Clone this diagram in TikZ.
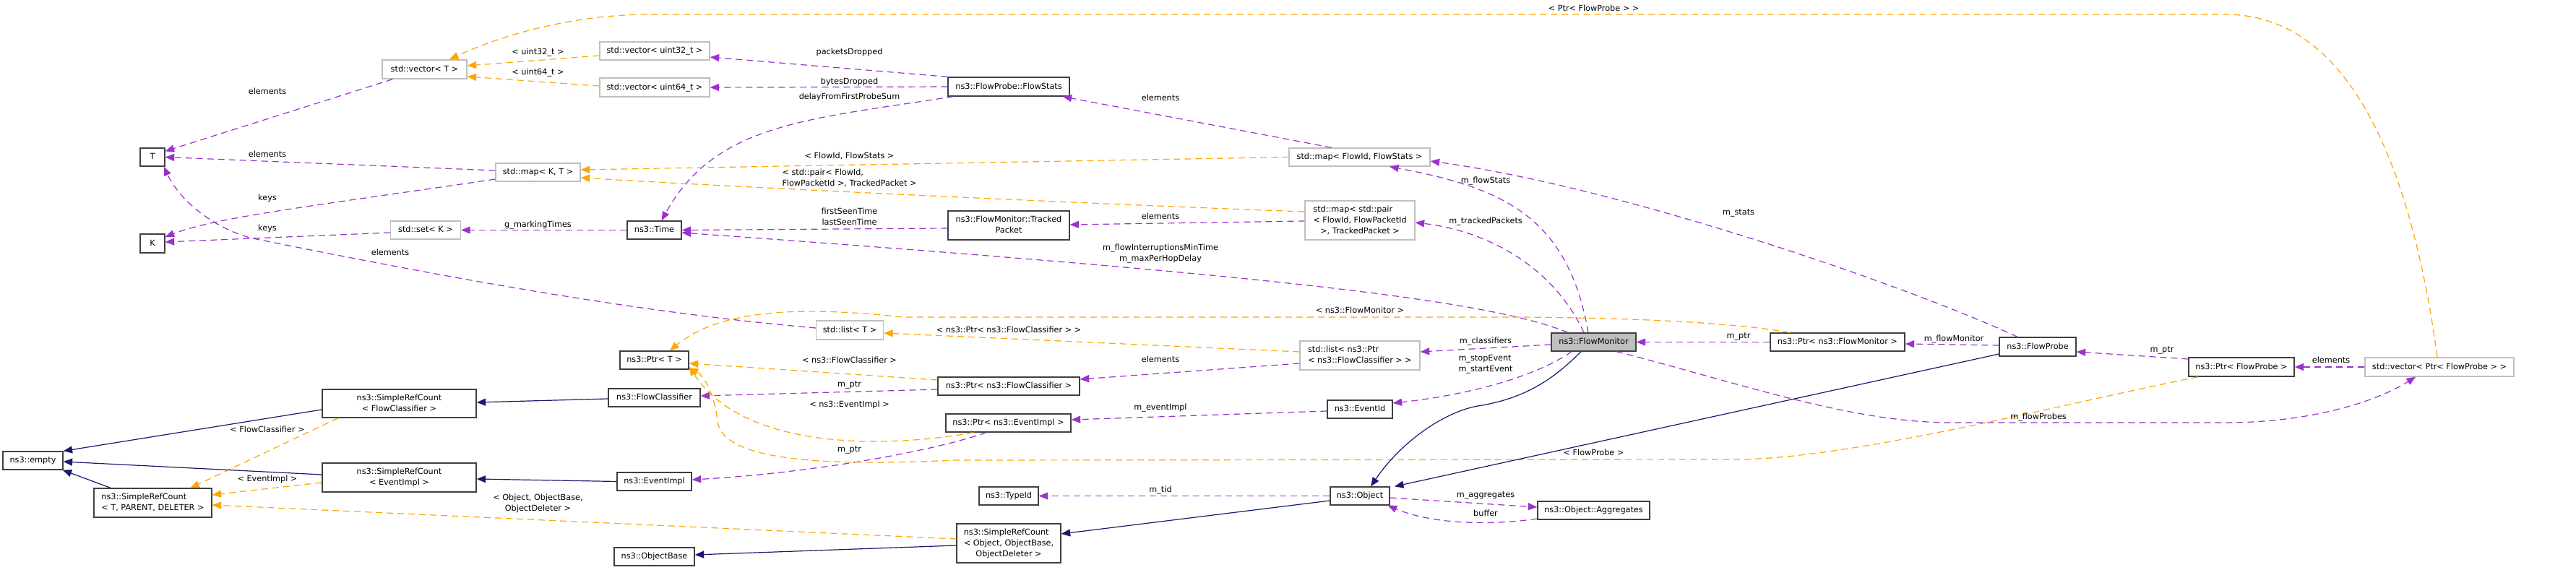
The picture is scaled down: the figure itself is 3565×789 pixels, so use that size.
\documentclass[tikz,border=0pt]{standalone}
\usepackage{fontspec}
\setmainfont{DejaVu Sans}
\usetikzlibrary{arrows.meta}
\definecolor{purp}{HTML}{9A32CD}
\definecolor{orng}{HTML}{FFA500}
\definecolor{navy}{HTML}{191970}
\definecolor{gryb}{HTML}{BFBFBF}
\definecolor{dkb}{HTML}{404040}
\newcommand{\mlb}[2]{\begin{tabular}{@{}l@{}}#1\\\multicolumn{1}{@{}c@{}}{#2}\end{tabular}}
\newcommand{\mlc}[3]{\begin{tabular}{@{}l@{}}#1\\#2\\\multicolumn{1}{@{}c@{}}{#3}\end{tabular}}
\begin{document}
\begin{tikzpicture}[x=1pt,y=-1pt,
  font=\fontsize{11.25}{15}\selectfont,
  box/.style={rectangle, draw=dkb, line width=1.3pt, inner sep=0pt, fill=white, align=center},
  gbox/.style={box, draw=gryb},
  one/.style={text height=9pt, text depth=2.2pt},
  lbl/.style={inner sep=0pt, one},
  mlbl/.style={inner sep=0pt},
  tipp/.style={-{Triangle[length=12.5pt,width=10pt]}},
  use/.style={tipp, draw=purp, line width=1.2pt, dash pattern=on 9pt off 6pt},
  tmpl/.style={tipp, draw=orng, line width=1.2pt, dash pattern=on 9pt off 6pt},
  inh/.style={tipp, draw=navy, line width=1.2pt}
]
\fill[white] (0,0) rectangle (3565,789);
\useasboundingbox (0,0) rectangle (3565,789);

% nodes
\node[box,one,minimum width=34,minimum height=25] (T) at (211,217.5) {T};
\node[box,one,minimum width=34,minimum height=26] (K) at (211,337) {K};
\node[gbox,one,minimum width=117,minimum height=26] (vecT) at (587.5,96) {std::vector< T >};
\node[gbox,one,minimum width=152,minimum height=25] (vec32) at (906,70.5) {std::vector< uint32\_t >};
\node[gbox,one,minimum width=152,minimum height=26] (vec64) at (906,121) {std::vector< uint64\_t >};
\node[gbox,one,minimum width=117,minimum height=25] (mapKT) at (744.5,238.5) {std::map< K, T >};
\node[gbox,one,minimum width=97,minimum height=25] (setK) at (589,318.5) {std::set< K >};
\node[box,one,minimum width=75,minimum height=25] (Time) at (905.5,318.5) {ns3::Time};
\node[box,one,minimum width=168,minimum height=26] (FlowStats) at (1396,120) {ns3::FlowProbe::FlowStats};
\node[box,minimum width=168,minimum height=40] (TP) at (1396,312) {\mlb{ns3::FlowMonitor::Tracked}{Packet}};
\node[gbox,one,minimum width=195,minimum height=25] (mapFS) at (1881.5,217.5) {std::map< FlowId, FlowStats >};
\node[gbox,minimum width=152,minimum height=54] (mapPair) at (1882,305) {\mlc{std::map< std::pair}{< FlowId, FlowPacketId}{>, TrackedPacket >}};
\node[gbox,one,minimum width=93,minimum height=26] (listT) at (1176,457) {std::list< T >};
\node[box,one,minimum width=95,minimum height=25] (PtrT) at (905.5,498.5) {ns3::Ptr< T >};
\node[box,one,minimum width=127,minimum height=25] (FC) at (905.5,550.5) {ns3::FlowClassifier};
\node[box,one,minimum width=103,minimum height=25] (EventImpl) at (905.5,666.5) {ns3::EventImpl};
\node[box,one,minimum width=111,minimum height=25] (ObjectBase) at (905.5,770.5) {ns3::ObjectBase};
\node[box,one,minimum width=83,minimum height=25] (empty) at (45.5,637.5) {ns3::empty};
\node[box,minimum width=163,minimum height=40] (SRC) at (211.5,696) {\mlb{ns3::SimpleRefCount}{< T, PARENT, DELETER >}};
\node[box,minimum width=213,minimum height=39] (SRCFC) at (552.5,558.5) {\mlb{ns3::SimpleRefCount}{< FlowClassifier >}};
\node[box,minimum width=213,minimum height=40] (SRCEI) at (552.5,661) {\mlb{ns3::SimpleRefCount}{< EventImpl >}};
\node[box,one,minimum width=196,minimum height=25] (PtrFC) at (1396,534.5) {ns3::Ptr< ns3::FlowClassifier >};
\node[box,one,minimum width=173,minimum height=25] (PtrEI) at (1395.5,585.5) {ns3::Ptr< ns3::EventImpl >};
\node[box,one,minimum width=82,minimum height=25] (TypeId) at (1396,686.5) {ns3::TypeId};
\node[box,minimum width=144,minimum height=54] (SRCObj) at (1396,752) {\mlc{ns3::SimpleRefCount}{< Object, ObjectBase,}{ObjectDeleter >}};
\node[gbox,minimum width=166,minimum height=40] (listPFC) at (1882,492) {\mlb{std::list< ns3::Ptr}{< ns3::FlowClassifier > >}};
\node[box,one,fill=gryb,minimum width=117,minimum height=25] (FM) at (2205.5,473.5) {ns3::FlowMonitor};
\node[box,one,minimum width=90,minimum height=25] (EventId) at (1882,566.5) {ns3::EventId};
\node[box,one,minimum width=82,minimum height=25] (Object) at (1882,686.5) {ns3::Object};
\node[box,one,minimum width=155,minimum height=25] (Agg) at (2205.5,706.5) {ns3::Object::Aggregates};
\node[box,one,minimum width=186,minimum height=25] (PtrFM) at (2543,473.5) {ns3::Ptr< ns3::FlowMonitor >};
\node[box,one,minimum width=106,minimum height=26] (FP) at (2820,480) {ns3::FlowProbe};
\node[box,one,minimum width=146,minimum height=26] (PtrFP) at (3102,508) {ns3::Ptr< FlowProbe >};
\node[gbox,one,minimum width=206,minimum height=26] (vecPFP) at (3376,508) {std::vector< Ptr< FlowProbe > >};

% purple usage edges
\draw[use] ([xshift=15]vecT.south west) -- ([yshift=-5]T.north east);
\draw[use] ([yshift=2.5]mapKT.west) -- (T.east);
\draw[use] ([yshift=3]listT.west) .. controls (850,430) and (550,370) .. (350,330) .. controls (300,318) and (250,280) .. ([xshift=-2]T.south east);
\draw[use] ([yshift=-9.5]mapKT.west) .. controls (450,283) and (300,300) .. ([yshift=9]K.east);
\draw[use] ([yshift=-3.5]setK.west) -- ([yshift=2]K.east);
\draw[use] (Time.west) -- (setK.east);
\draw[use] (FlowStats.north west) -- ([yshift=-8.5]vec32.east);
\draw[use] (FlowStats.west) -- (vec64.east);
\draw[use] ([xshift=8]FlowStats.south west) .. controls (1120,165) and (990,170) .. ([xshift=10]Time.north);
\draw[use] ([xshift=-38.5]mapFS.north) -- ([xshift=-10]FlowStats.south east);
\draw[use] ([yshift=-4]TP.west) -- (Time.east);
\draw[use] ([yshift=-1]mapPair.west) -- ([yshift=1]TP.east);
\draw[use] ([xshift=-35.5]FM.north) .. controls (2060,415) and (1750,380) .. ([yshift=-3.5]Time.east);
\draw[use] ([xshift=-7.5]FM.north) .. controls (2170,300) and (2080,260) .. ([xshift=41.5]mapFS.south);
\draw[use] ([xshift=-13.5]FM.north) .. controls (2150,370) and (2060,320) .. ([yshift=-3]mapPair.east);
\draw[use] ([xshift=-28]FP.north) .. controls (2650,400) and (2250,260) .. ([yshift=-5.5]mapFS.east);
\draw[use] ([yshift=-3.5]FM.west) -- ([yshift=5]listPFC.east);
\draw[use] ([xshift=-30.5]FM.south) .. controls (2120,525) and (2020,548) .. ([yshift=8.5]EventId.east);
\draw[use] ([yshift=-11]listPFC.west) -- ([yshift=9.5]PtrFC.east);
\draw[use] ([yshift=-4.5]PtrFC.west) -- ([yshift=2.5]FC.east);
\draw[use] ([yshift=-2.5]EventId.west) -- ([yshift=4.5]PtrEI.east);
\draw[use] ([xshift=-30.5]PtrEI.south) .. controls (1290,625) and (1120,655) .. ([yshift=2.5]EventImpl.east);
\draw[use] (Object.west) -- (TypeId.east);
\draw[use] ([yshift=-2.5]Object.east) -- ([yshift=4.5]Agg.west);
\draw[use] ([yshift=-11.5]Agg.west) .. controls (2060,728) and (1980,725) .. ([xshift=-3]Object.south east);
\draw[use] ([yshift=2]FP.west) -- ([yshift=-2.5]PtrFM.east);
\draw[use] (PtrFM.west) -- (FM.east);
\draw[use] ([yshift=11]PtrFP.west) -- ([yshift=-7]FP.east);
\draw[use] (vecPFP.west) -- (PtrFP.east);
\draw[use] ([xshift=31.5]FM.south) .. controls (2400,528) and (2560,585) .. (2700,585) -- (3080,585) .. controls (3200,585) and (3290,555) .. ([xshift=-33]vecPFP.south);

% orange template edges
\draw[tmpl] ([yshift=-6.5]vec32.west) -- ([yshift=5]vecT.east);
\draw[tmpl] ([yshift=2]vec64.west) -- ([yshift=-10]vecT.east);
\draw[tmpl] ([xshift=-3]vecPFP.north) .. controls (3340,250) and (3260,20) .. (3080,20) -- (900,20) .. controls (780,20) and (680,55) .. ([xshift=34.5]vecT.north);
\draw[tmpl] (mapFS.west) -- ([yshift=3.5]mapKT.east);
\draw[tmpl] ([yshift=12]mapPair.west) .. controls (1500,282) and (1000,258) .. ([yshift=-7.5]mapKT.east);
\draw[tmpl] ([yshift=5]listPFC.west) -- ([yshift=-4]listT.east);
\draw[tmpl] ([xshift=-66]PtrFM.north) .. controls (2420,450) and (2300,440) .. (2100,439) -- (1250,439) .. controls (1120,425) and (1000,425) .. ([xshift=21.5]PtrT.north);
\draw[tmpl] ([yshift=8.5]PtrFC.west) -- ([yshift=-4.5]PtrT.east);
\draw[tmpl] ([xshift=-48.5]PtrEI.south) .. controls (1230,620) and (1030,625) .. ([yshift=-9]PtrT.east);
\draw[tmpl] ([xshift=-60]PtrFP.south) .. controls (2850,560) and (2560,636) .. (2400,636) -- (1320,637) .. controls (1150,645) and (1000,640) .. (993,583) .. controls (990,550) and (975,520) .. ([yshift=-11]PtrT.east);
\draw[tmpl] ([xshift=-84.5]SRCFC.south) -- ([xshift=52]SRC.north);
\draw[tmpl] ([yshift=-7]SRCEI.west) -- ([yshift=11]SRC.east);
\draw[tmpl] ([yshift=6]SRCObj.west) -- ([yshift=-3]SRC.east);

% navy inheritance edges
\draw[inh] ([yshift=-8.5]SRCFC.west) -- (empty.north east);
\draw[inh] ([yshift=4]SRCEI.west) -- ([yshift=-1.5]empty.east);
\draw[inh] ([xshift=-58.5]SRC.north) -- ([xshift=-1]empty.south east);
\draw[inh] ([yshift=-1.5]FC.west) -- ([yshift=1.5]SRCFC.east);
\draw[inh] (EventImpl.west) -- ([yshift=-2]SRCEI.east);
\draw[inh] ([yshift=-3]SRCObj.west) -- ([yshift=2.5]ObjectBase.east);
\draw[inh] ([yshift=-6.5]Object.west) -- ([yshift=13]SRCObj.east);
\draw[inh] ([xshift=-17.5]FM.south) .. controls (2150,525) and (2110,552) .. (2045,562) .. controls (2000,570) and (1940,610) .. ([xshift=15]Object.north);
\draw[inh] ([yshift=-10]FP.west) -- ([xshift=48]Object.north);

% labels
\node[lbl] (l1) at (370,127) {elements};
\node[lbl] (l2) at (370,214) {elements};
\node[lbl] (l3) at (370,274) {keys};
\node[lbl] (l4) at (370,316) {keys};
\node[lbl] (l5) at (540,350) {elements};
\node[lbl] (l6) at (744.5,72) {< uint32\_t >};
\node[lbl] (l7) at (744.5,100) {< uint64\_t >};
\node[lbl] (l8) at (744.5,311) {g\_markingTimes};
\node[lbl] (l9) at (1175.5,72) {packetsDropped};
\node[lbl] (l10) at (1175.5,113) {bytesDropped};
\node[lbl] (l11) at (1175.5,134) {delayFromFirstProbeSum};
\node[lbl] (l12) at (1175.5,216) {< FlowId, FlowStats >};
\node[mlbl] (l13) at (1175.5,247) {\mlb{< std::pair< FlowId,}{FlowPacketId >, TrackedPacket >}};
\node[mlbl] (l14) at (1175.5,301) {\mlb{firstSeenTime}{lastSeenTime}};
\node[lbl] (l15) at (1606,136) {elements};
\node[lbl] (l16) at (1606,300) {elements};
\node[mlbl] (l17) at (1606,351) {\mlb{m\_flowInterruptionsMinTime}{m\_maxPerHopDelay}};
\node[lbl] (l18) at (2056,250) {m\_flowStats};
\node[lbl] (l19) at (2056,306) {m\_trackedPackets};
\node[lbl] (l20) at (2406,294) {m\_stats};
\node[lbl] (l21) at (2205.5,12) {< Ptr< FlowProbe > >};
\node[lbl] (l22) at (1882,430) {< ns3::FlowMonitor >};
\node[lbl] (l23) at (2056,472) {m\_classifiers};
\node[mlbl] (l24) at (2056,504) {\mlb{m\_stopEvent}{m\_startEvent}};
\node[lbl] (l25) at (1606,498) {elements};
\node[lbl] (l26) at (1396,457) {< ns3::Ptr< ns3::FlowClassifier > >};
\node[lbl] (l27) at (1175.5,499) {< ns3::FlowClassifier >};
\node[lbl] (l28) at (1175.5,532) {m\_ptr};
\node[lbl] (l29) at (1175.5,560) {< ns3::EventImpl >};
\node[lbl] (l30) at (1606,564) {m\_eventImpl};
\node[lbl] (l31) at (1175.5,622) {m\_ptr};
\node[lbl] (l32) at (2205.5,627) {< FlowProbe >};
\node[lbl] (l33) at (1606,678) {m\_tid};
\node[lbl] (l34) at (2056,685) {m\_aggregates};
\node[lbl] (l35) at (2056,711) {buffer};
\node[lbl] (l36) at (2406,465) {m\_ptr};
\node[lbl] (l37) at (2704,469) {m\_flowMonitor};
\node[lbl] (l38) at (2821,577) {m\_flowProbes};
\node[lbl] (l39) at (2992,484) {m\_ptr};
\node[lbl] (l40) at (3226,499) {elements};
\node[lbl] (l41) at (370,595) {< FlowClassifier >};
\node[lbl] (l42) at (370,663) {< EventImpl >};
\node[mlbl] (l43) at (744.5,697) {\mlb{< Object, ObjectBase,}{ObjectDeleter >}};
\end{tikzpicture}
\end{document}
